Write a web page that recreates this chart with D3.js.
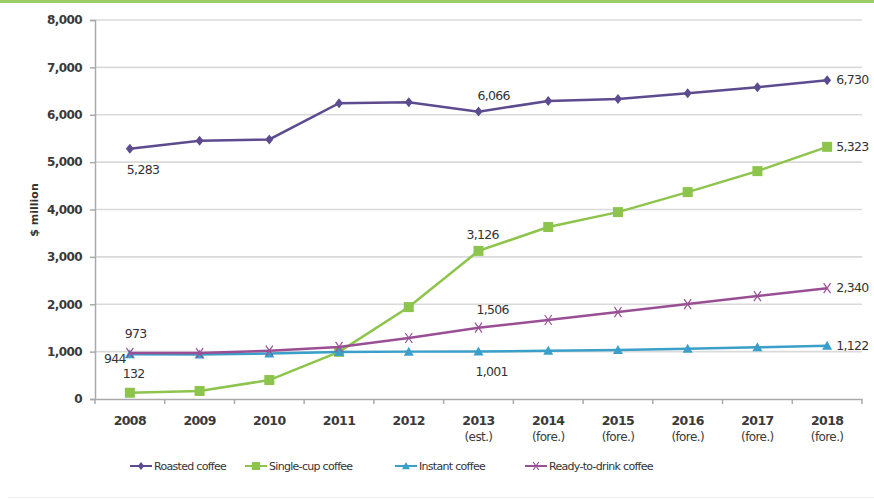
<!DOCTYPE html>
<html><head><meta charset="utf-8">
<script src="https://cdn.jsdelivr.net/npm/d3@7"></script>
<style>body{margin:0;background:#fff}svg{display:block}text{font-family:"DejaVu Sans",Verdana,sans-serif}</style>
</head><body><svg id="c" width="874" height="499"></svg>
<script>
const years = ["2008","2009","2010","2011","2012","2013","2014","2015","2016","2017","2018"];
const subLabels = ["","","","","","(est.)","(fore.)","(fore.)","(fore.)","(fore.)","(fore.)"];
const roasted = [5283,5450,5480,6245,6266,6066,6290,6330,6456,6582,6730];
const singleCup = [132,170,400,995,1940,3126,3630,3945,4367,4810,5323];
const instant = [944,940,960,990,1000,1001,1020,1034,1060,1090,1122];
const readyToDrink = [973,970,1020,1100,1287,1506,1667,1835,2004,2173,2340];
const yTicks = [0,1000,2000,3000,4000,5000,6000,7000,8000];
const seriesNames = ["Roasted coffee","Single-cup coffee","Instant coffee","Ready-to-drink coffee"];

const svg = d3.select("#c");
const m = {l:95, r:862, t:20, b:399};
const x = d3.scaleBand().domain(years).range([m.l, m.r]);
const y = d3.scaleLinear().domain([0,8000]).range([m.b, m.t]);
const cx = d => x(d) + x.bandwidth()/2;
const fmt = d3.format(",");

// frame
svg.append("rect").attr("x",0).attr("y",0).attr("width",874).attr("height",3).attr("fill","#9ccc65");
svg.append("line").attr("x1",8).attr("x2",874).attr("y1",497.5).attr("y2",497.5).attr("stroke","#eee");

// grid
svg.append("g").selectAll("line").data(yTicks.filter(d=>d>0)).join("line")
  .attr("x1",m.l).attr("x2",m.r).attr("y1",d=>y(d)).attr("y2",d=>y(d))
  .attr("stroke","#dadada").attr("stroke-width",1.6);

// y axis
const ya = svg.append("g").attr("transform",`translate(${m.l},0)`)
  .call(d3.axisLeft(y).tickValues(yTicks).tickFormat(fmt).tickSize(5).tickPadding(8));
ya.select(".domain").attr("stroke","#aaa").attr("stroke-width",1.5);
ya.selectAll(".tick line").attr("stroke","#aaa").attr("stroke-width",1.5);
ya.selectAll("text").attr("font-size",12).attr("fill","#3a3a3a").attr("font-weight","bold").attr("letter-spacing","-0.6px");

// x axis
const xa = svg.append("g").attr("transform",`translate(0,${m.b})`)
  .call(d3.axisBottom(x).tickSize(0).tickFormat(""));
xa.select(".domain").attr("stroke","#aaa").attr("stroke-width",1.5);
svg.append("g").selectAll("line").data(years.concat(["end"])).join("line")
  .attr("x1",(d,i)=>m.l + i*x.step()).attr("x2",(d,i)=>m.l + i*x.step())
  .attr("y1",m.b).attr("y2",m.b+5).attr("stroke","#aaa").attr("stroke-width",1.5);
const xl = svg.append("g");
xl.selectAll("text.yr").data(years).join("text").attr("class","yr")
  .attr("x",d=>cx(d)).attr("y",425).attr("text-anchor","middle")
  .attr("font-size",12.5).attr("fill","#3a3a3a").attr("font-weight","bold").attr("letter-spacing","-0.6px").text(d=>d);
xl.selectAll("text.sub").data(years).join("text").attr("class","sub")
  .attr("x",d=>cx(d)).attr("y",441).attr("text-anchor","middle")
  .attr("font-size",12).attr("fill","#3a3a3a").attr("letter-spacing","-0.6px").text((d,i)=>subLabels[i]);

// y title
svg.append("text").attr("transform","translate(38,210) rotate(-90)").attr("text-anchor","middle")
  .attr("font-size",11).attr("font-weight","bold").attr("fill","#333").text("$ million");

const colors = ["#5c4b8e","#8dc44c","#3a9fc9","#9a4f95"];
const data = [roasted, singleCup, instant, readyToDrink];
const line = d3.line().x((d,i)=>cx(years[i])).y(d=>y(d));

function marker(g, type, color, px, py, sc){
  sc = sc || 1;
  if(type===0){
    g.append("path").attr("d",`M${px},${py-5*sc}L${px+4*sc},${py}L${px},${py+5*sc}L${px-4*sc},${py}Z`).attr("fill",color);
  } else if(type===1){
    g.append("rect").attr("x",px-5*sc).attr("y",py-5*sc).attr("width",10*sc).attr("height",10*sc).attr("fill",color);
  } else if(type===2){
    g.append("path").attr("d",`M${px},${py-5*sc}L${px+5*sc},${py+4*sc}L${px-5*sc},${py+4*sc}Z`).attr("fill",color);
  } else {
    g.append("path").attr("d",`M${px-3.5*sc},${py-5*sc}L${px+3.5*sc},${py+5*sc}M${px+3.5*sc},${py-5*sc}L${px-3.5*sc},${py+5*sc}`).attr("stroke",color).attr("stroke-width",1.2);
  }
}

[0,1,2,3].forEach(k=>{
  const g = svg.append("g");
  g.append("path").datum(data[k]).attr("d",line).attr("fill","none").attr("stroke",colors[k]).attr("stroke-width",2.5);
  data[k].forEach((v,i)=>marker(g,k,colors[k],cx(years[i]),y(v)));
});
// data labels
const labels = [
  {s:0,i:0,dx:-3,dy:25,a:"start"},
  {s:0,i:5,dx:-1,dy:-12,a:"start"},
  {s:0,i:10,dx:9,dy:4,a:"start"},
  {s:1,i:0,dx:-7,dy:-15,a:"start"},
  {s:1,i:5,dx:-12,dy:-12,a:"start"},
  {s:1,i:10,dx:9,dy:4,a:"start"},
  {s:2,i:0,dx:-4,dy:9,a:"end"},
  {s:2,i:5,dx:-3,dy:24,a:"start"},
  {s:2,i:10,dx:9,dy:4,a:"start"},
  {s:3,i:0,dx:-5,dy:-15,a:"start"},
  {s:3,i:5,dx:-2,dy:-14,a:"start"},
  {s:3,i:10,dx:9,dy:4,a:"start"}
];
svg.append("g").selectAll("text").data(labels).join("text")
  .attr("x",d=>cx(years[d.i])+d.dx).attr("y",d=>y(data[d.s][d.i])+d.dy)
  .attr("text-anchor",d=>d.a).attr("font-size",12.5).attr("fill","#333").attr("letter-spacing","-0.7px")
  .text(d=>fmt(data[d.s][d.i]));

// legend
const lx = [130,245,395,525];
const lg = svg.append("g");
seriesNames.forEach((n,k)=>{
  const yy = 466;
  lg.append("line").attr("x1",lx[k]).attr("x2",lx[k]+22).attr("y1",yy).attr("y2",yy).attr("stroke",colors[k]).attr("stroke-width",2);
  marker(lg,k,colors[k],lx[k]+11,yy,0.8);
  lg.append("text").attr("x",lx[k]+24).attr("y",yy+4).attr("font-size",11).attr("fill","#333").attr("letter-spacing","-0.7px").text(n);
});
</script></body></html>
